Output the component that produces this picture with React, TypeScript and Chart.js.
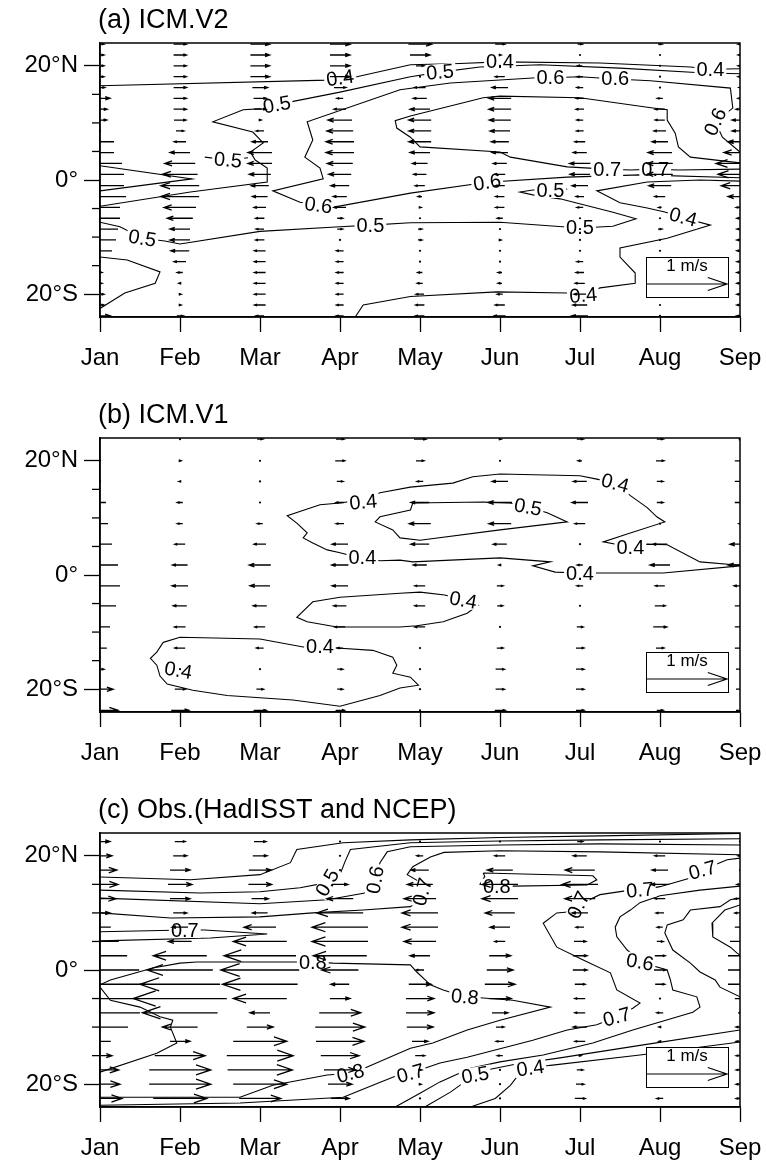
import React, { useEffect, useRef } from 'react';
import { Chart, registerables } from 'chart.js';
Chart.register(...registerables);

const FONT = "'Liberation Sans', Arial, Helvetica, sans-serif";
Chart.defaults.font.family = FONT;
Chart.defaults.color = '#000';

// ---------- axes ----------
const months = ['Jan', 'Feb', 'Mar', 'Apr', 'May', 'Jun', 'Jul', 'Aug', 'Sep'];
const yTickValues = [-20, -15, -10, -5, 0, 5, 10, 15, 20];
const yMajorLabels: Record<string, string> = { '20': '20°N', '0': '0°', '-20': '20°S' };

// ---------- panel (a) ICM.V2 ----------
const latsA = [23.8, 21.9, 20.0, 18.1, 16.2, 14.3, 12.4, 10.5, 8.6, 6.7, 4.8, 2.9, 1.0, -1.0, -2.9, -4.8, -6.7, -8.6, -10.5, -12.4, -14.3, -16.2, -18.1, -20.0, -21.9, -23.8];
const uA = [
  [0.1, 0.1, 0.1, 0.1, 0.12, 0.25, 0.18, 0.17, 0.02, -0.35, -0.35, -0.55, -0.6, -0.6, -0.65, -0.5, -0.5, -0.45, -0.4, -0.3, 0.0, 0.05, 0.05, 0.1, 0.1, 0.25],
  [0.16, 0.16, 0.16, 0.16, 0.16, 0.16, 0.16, 0.15, 0.1, -0.15, -0.25, -0.38, -0.44, -0.48, -0.48, -0.4, -0.32, -0.25, -0.25, -0.23, -0.15, -0.07, -0.03, 0.03, 0.03, 0.08],
  [0.24, 0.24, 0.24, 0.24, 0.19, 0.16, 0.15, 0.03, -0.1, -0.2, -0.3, -0.3, -0.27, -0.22, -0.19, -0.15, -0.11, -0.1, -0.11, -0.14, -0.14, -0.14, -0.14, -0.14, -0.14, -0.1],
  [0.25, 0.25, 0.25, 0.25, 0.15, -0.08, -0.15, -0.3, -0.33, -0.35, -0.35, -0.32, -0.28, -0.23, -0.17, -0.15, 0.07, 0.07, 0.02, -0.09, -0.09, -0.09, -0.09, -0.09, -0.09, -0.09],
  [0.29, 0.25, 0.1, 0.02, -0.14, -0.17, -0.25, -0.28, -0.28, -0.28, -0.25, -0.19, -0.16, -0.12, -0.05, 0.03, 0.02, 0.05, 0.05, 0.02, 0.02, -0.06, -0.07, -0.1, -0.11, -0.11],
  [0.12, 0.03, 0.02, -0.12, -0.2, -0.28, -0.28, -0.27, -0.25, -0.22, -0.2, -0.17, -0.13, -0.12, -0.11, -0.11, -0.07, 0.01, 0.03, 0.02, 0.02, -0.05, -0.05, -0.07, -0.12, -0.14],
  [0.06, 0.02, -0.06, -0.07, -0.08, -0.1, -0.1, -0.08, -0.09, -0.13, -0.17, -0.26, -0.25, -0.2, -0.1, -0.08, -0.02, 0.01, 0.0, 0.01, -0.08, -0.1, -0.12, -0.15, -0.18, -0.2],
  [0.05, 0.01, 0.01, 0.01, 0.01, -0.07, -0.12, -0.12, -0.15, -0.2, -0.3, -0.32, -0.32, -0.28, -0.13, -0.04, 0.01, 0.05, 0.01, 0.01, 0.02, 0.02, 0.02, 0.02, 0.02, 0.02],
  [-0.05, -0.05, -0.05, -0.05, -0.03, -0.05, -0.1, -0.2, -0.2, -0.3, -0.4, -0.6, -0.55, -0.47, -0.3, -0.1, -0.08, -0.08, -0.08, -0.08, -0.08, -0.08, -0.08, -0.08, -0.08, -0.08],
];
const contA1 = [[0, 16.5], [2.84, 17.5], [3.0, 17.9], [3.21, 18.1], [3.88, 20.2], [4.5, 20.4], [5.0, 20.7], [6.25, 20.5], [7.38, 19.8], [7.63, 19.4], [8, 19.5]];
const contA2 = [[0, -4.6], [1.13, -2.1], [2.09, -0.35], [2.09, 2.1], [1.94, 3.5], [1.88, 4.9], [2.04, 6.5], [1.91, 8.4], [1.41, 10.2], [1.79, 12.3], [2.03, 12.5], [2.21, 13.2], [3.0, 15.4], [3.88, 18.1], [4.25, 18.9], [4.75, 19.8], [5.5, 20.2], [6.5, 19.6], [7.5, 18.8], [8, 18.6]];
const contA3 = [[8, 0.4], [6.75, 0.9], [5.84, 0.5], [4.84, -0.4], [3.88, -2.3], [2.94, -4.7], [2.73, -4.4], [2.5, -3.9], [2.16, -1.9], [2.79, 0.2], [2.75, 2.1], [2.56, 4.0], [2.66, 7.0], [2.59, 10.2], [3.75, 15.8], [4.38, 17.0], [5.46, 17.9], [5.63, 17.9], [6.0, 18.1], [6.44, 17.7], [6.88, 17.4], [7.88, 16.1], [7.91, 12.6], [7.69, 10.2], [7.78, 7.5], [8, 4.9]];
const contA4 = [[8, 3.0], [7.38, 4.0], [7.23, 5.8], [7.19, 8.2], [7.09, 10.5], [7.09, 12.3], [6.91, 12.6], [6.0, 14.4], [5.0, 14.7], [4.79, 14.4], [3.88, 11.2], [3.69, 10.4], [3.71, 9.1], [3.88, 7.5], [4.0, 5.8], [5.0, 4.9], [5.13, 4.0], [5.84, 2.3], [6.34, 1.9], [6.63, 1.75], [6.94, 1.9], [7.23, 1.75], [8, 1.9]];
const contA5 = [[0, 2.5], [1.15, 0.2], [0, -1.9]];
const contA6 = [[1.31, 4.0], [1.6, 3.5], [1.85, 3.9]];
const contA7 = [[0, -7.4], [0.25, -8.2], [0.53, -10.2], [0.81, -10.7], [1.0, -11.2], [2.0, -9.0], [3.0, -8.2], [3.38, -7.9], [3.88, -7.5], [5.0, -7.4], [6.0, -8.4], [6.41, -8.1], [6.7, -6.8], [6.4, -5.6], [5.75, -3.3], [5.41, -2.6], [5.25, -2.1], [5.41, -1.75], [5.63, -1.75], [5.84, -1.6]];
const contA8 = [[3.19, -24.0], [3.29, -21.9], [3.88, -20.4], [4.96, -19.6], [5.84, -19.8], [6.04, -20.2], [6.25, -18.9], [6.69, -18.1], [6.69, -16.3], [6.5, -13.5], [6.5, -11.9], [7.09, -10.2], [7.63, -7.9], [7.31, -6.7], [7.06, -5.6], [6.84, -4.9], [6.5, -4.0], [6.21, -1.9], [6.84, -0.35], [7.5, 0], [8, -0.2]];
const contA9 = [[0, -13.5], [0.34, -14.0], [0.75, -16.1], [0.69, -18.1], [0.31, -19.8], [0, -22.5]];
const labelsA: [number, number, string, number][] = [
  [3.0, 17.9, '0.4', -8], [5.0, 20.7, '0.4', 0], [7.63, 19.4, '0.4', 0],
  [2.21, 13.2, '0.5', -10], [4.25, 18.9, '0.5', -5], [1.6, 3.5, '0.5', 5],
  [5.63, 17.9, '0.6', 0], [6.44, 17.7, '0.6', 0], [7.69, 10.2, '0.6', -65],
  [2.73, -4.4, '0.6', 8], [4.84, -0.4, '0.6', -8],
  [6.34, 1.9, '0.7', 0], [6.94, 1.9, '0.7', 0],
  [0.53, -10.2, '0.5', 10], [3.38, -7.9, '0.5', 0], [6.0, -8.4, '0.5', 0], [5.63, -1.75, '0.5', 0],
  [6.04, -20.2, '0.4', -5], [7.29, -6.5, '0.4', 15],
];

// ---------- panel (b) ICM.V1 ----------
const latsB = [23.8, 20.0, 16.4, 12.7, 9.0, 5.4, 1.75, -1.9, -5.4, -9.1, -12.8, -16.5, -20.0, -23.7];
const uB = [
  [0.02, 0.02, 0.02, -0.15, -0.2, -0.3, -0.45, -0.5, -0.4, -0.25, -0.17, 0.1, 0.33, 0.45],
  [0.02, 0.03, -0.03, -0.07, -0.07, -0.13, -0.19, -0.2, -0.17, -0.14, -0.13, 0.0, 0.13, 0.22],
  [0.07, 0.02, -0.02, 0.02, -0.07, -0.15, -0.27, -0.25, -0.17, -0.13, -0.09, 0.0, 0.09, 0.16],
  [0.1, 0.12, 0.08, -0.1, -0.1, -0.2, -0.21, -0.2, -0.16, -0.13, -0.07, 0.07, 0.07, 0.11],
  [0.15, 0.1, -0.08, -0.23, -0.27, -0.23, -0.17, -0.13, -0.13, -0.13, 0.02, 0.02, 0.02, 0.02],
  [0.03, 0.02, -0.2, -0.3, -0.28, -0.17, -0.03, 0.08, 0.07, 0.02, 0.08, 0.11, 0.11, 0.13],
  [0.08, -0.05, -0.17, -0.2, -0.13, 0.02, -0.07, -0.08, 0.02, 0.08, 0.1, 0.1, 0.1, 0.1],
  [0.08, 0.1, 0.08, 0.08, 0.02, -0.18, -0.25, -0.12, 0.13, 0.17, 0.1, 0.08, 0.08, 0.08],
  [0.03, 0.13, 0.13, 0.13, -0.03, -0.25, -0.3, -0.15, 0.13, 0.13, 0.13, 0.1, 0.1, 0.1],
];
const contB1 = [[8, 1.6], [7.04, 0.35], [6.25, 0.35], [6.0, 0.35], [5.69, 0.5], [5.41, 1.6], [5.63, 2.3], [5.0, 3.0], [3.91, 2.3], [3.75, 2.6], [3.5, 2.5], [3.25, 3.0], [3.0, 3.9], [2.84, 4.4], [2.66, 5.6], [2.54, 6.5], [2.59, 7.4], [2.46, 9.1], [2.34, 10.4], [2.75, 12.3], [3.0, 12.6], [3.29, 13.2], [3.5, 14.4], [3.88, 15.4], [4.41, 16.1], [4.66, 17.2], [5.0, 17.7], [6.0, 17.4], [6.21, 16.8], [6.44, 16.1], [6.63, 13.9], [6.84, 11.8], [6.96, 10.2], [7.06, 9.3], [6.59, 7.2], [6.29, 5.8], [6.63, 4.9], [6.84, 5.4], [7.09, 5.3], [7.5, 2.3], [7.96, 1.75], [8, 1.75]];
const contB2 = [[3.91, 12.6], [4.79, 12.8], [5.13, 12.6], [5.35, 11.9], [5.59, 10.9], [5.84, 9.3], [5.0, 7.9], [4.0, 6.1], [3.75, 6.5], [3.66, 7.9], [3.44, 9.3], [3.5, 10.2], [3.88, 11.4], [3.91, 12.6]];
const contB3 = [[3.75, -3.2], [4.0, -3.0], [4.31, -3.5], [4.54, -4.4], [4.73, -5.3], [4.59, -6.7], [4.29, -8.2], [3.96, -8.9], [3.75, -9.1], [2.96, -9.1], [2.59, -8.2], [2.46, -7.4], [2.66, -4.7], [3.0, -3.9], [3.75, -3.2]];
const contB4 = [[0.79, -11.8], [1.0, -10.9], [2.0, -11.2], [2.54, -12.6], [2.75, -12.6], [2.96, -12.8], [3.41, -13.2], [3.66, -14.4], [3.71, -15.8], [3.66, -17.2], [3.88, -17.9], [3.98, -19.3], [3.75, -19.8], [3.5, -21.1], [3.0, -23.0], [2.41, -21.9], [1.59, -21.1], [1.16, -20.2], [0.84, -19.1], [0.75, -17.7], [0.71, -15.8], [0.63, -14.6], [0.71, -13.5], [0.79, -11.8]];
const labelsB: [number, number, string, number][] = [
  [3.29, 12.8, '0.4', -5], [3.28, 3.0, '0.4', 0], [6.44, 16.1, '0.4', 15], [6.63, 4.9, '0.4', 0],
  [6.0, 0.35, '0.4', 0], [5.35, 11.9, '0.5', 10], [4.54, -4.4, '0.4', 10], [2.75, -12.6, '0.4', 0],
  [0.98, -16.7, '0.4', 10],
];

// ---------- panel (c) Obs. ----------
const latsC = [22.5, 20, 17.5, 15, 12.5, 10, 7.5, 5, 2.5, 0, -2.5, -5, -7.5, -10, -12.5, -15, -17.5, -20, -22.5];
const uC = [
  [0.25, 0.3, 0.42, 0.45, 0.4, 0.25, -0.27, -0.47, -0.68, -0.98, -1.05, -1.0, -1.0, -0.7, -0.27, 0.3, 0.47, 0.5, 0.55],
  [0.13, 0.17, 0.25, 0.3, 0.25, 0.17, -0.2, -0.29, -0.67, -0.82, -1.0, -1.17, -0.94, -0.44, 0.25, 0.63, 0.77, 0.77, 0.67],
  [0.15, 0.18, 0.28, 0.29, 0.21, -0.19, -0.4, -0.67, -0.9, -0.98, -0.94, -0.67, -0.25, 0.33, 0.67, 0.83, 0.81, 0.67, 0.52],
  [0.01, 0.02, 0.02, 0.2, -0.33, -0.58, -0.7, -0.7, -0.67, -0.46, -0.23, 0.25, 0.52, 0.62, 0.6, 0.48, 0.4, 0.3, 0.23],
  [0.0, -0.08, -0.22, -0.32, -0.4, -0.45, -0.45, -0.4, -0.25, -0.1, 0.28, 0.35, 0.35, 0.33, 0.2, 0.12, 0.05, 0.03, 0.02],
  [0.02, -0.13, -0.32, -0.45, -0.45, -0.37, -0.25, -0.13, 0.27, 0.33, 0.38, 0.28, 0.2, 0.1, -0.1, -0.07, 0.02, 0.02, 0.02],
  [0.07, -0.17, -0.37, -0.45, -0.38, -0.2, -0.1, 0.15, 0.18, 0.18, 0.13, -0.13, -0.13, -0.17, -0.13, 0.03, 0.08, 0.1, 0.13],
  [0.02, -0.13, -0.2, -0.23, -0.13, -0.1, -0.07, 0.08, 0.13, 0.15, 0.12, 0.02, -0.08, -0.03, -0.03, -0.05, -0.05, -0.05, -0.08],
  [0.02, -0.05, 0.02, -0.08, -0.13, -0.13, 0.13, 0.25, 0.3, 0.3, 0.3, 0.13, 0.05, -0.1, -0.1, -0.1, -0.1, -0.1, -0.1],
];
const contC1 = [[0, 16.3], [1.13, 15.8], [2.0, 16.7], [2.38, 18.8], [2.46, 21.1], [3.04, 22.3], [3.88, 22.8], [5.0, 23.2], [6.25, 23.5], [8, 23.9]];
const contC2 = [[0, 14.0], [1.25, 13.5], [2.0, 13.7], [2.5, 14.4], [2.84, 15.3], [3.0, 16.7], [3.06, 18.9], [3.13, 21.1], [3.88, 22.3], [5.0, 22.6], [6.25, 22.8], [8, 23.0]];
const contC3 = [[0, 12.6], [2.0, 11.6], [2.84, 12.3], [3.31, 13.5], [3.44, 15.8], [3.5, 18.8], [3.59, 20.7], [3.88, 21.6], [5.0, 21.9], [6.25, 22.1], [8, 21.9]];
const contC4 = [[0, 10.0], [0.88, 9.1], [2.0, 9.3], [2.66, 10.0], [3.29, 10.5], [3.88, 11.1], [4.0, 12.3], [4.03, 13.7], [4.0, 15.4], [3.84, 16.7], [3.91, 18.1], [4.13, 19.8], [4.3, 20.6], [5.0, 20.9], [6.25, 20.7], [8, 20.2]];
const contC5 = [[0, 6.7], [1.06, 7.0], [1.31, 7.0], [2.09, 6.3], [1.38, 5.6], [0, 5.1]];
const contC6 = [[0, -22.3], [1.75, -22.3], [2.16, -20.2], [2.84, -18.4], [3.13, -18.1], [3.34, -17.0], [3.88, -13.7], [4.16, -12.8], [4.59, -10.5], [5.0, -8.8], [5.63, -6.5], [5.16, -5.3], [4.79, -4.9], [4.56, -4.7], [4.29, -3.5], [4.13, -2.6], [3.96, -0.35], [3.88, 0.9], [2.91, 1.2], [2.66, 1.4], [1.21, 1.4], [1.0, 1.2], [0.66, 0.35], [0.13, -1.75], [0, -2.6]];
const contC7 = [[0, -3.0], [0.13, -5.3], [0.5, -6.5], [0.75, -8.2], [0.91, -8.8], [0.88, -10.0], [0.96, -12.8], [0.71, -14.6], [0, -17.9]];
const contC8 = [[0, -23.7], [1.75, -23.3], [3.04, -22.3], [3.41, -20.2], [3.69, -18.6], [3.88, -18.1], [4.06, -17.2], [4.25, -16.3], [4.59, -15.3], [5.41, -12.3], [5.84, -10.5], [6.21, -9.6], [6.46, -8.2], [6.66, -6.7], [6.75, -5.8], [6.46, -3.5], [6.38, -0.5], [6.04, 1.75], [5.71, 4.0], [5.54, 8.2], [5.71, 10.0], [5.88, 10.2], [5.98, 11.4], [6.25, 13.2], [6.63, 14.0], [6.75, 14.0], [7.0, 14.6], [7.38, 16.1], [7.53, 17.5], [7.84, 19.3], [8, 19.6]];
const contC9 = [[8, 14.7], [7.5, 14.0], [7.0, 13.0], [6.75, 11.8], [6.63, 10.5], [6.5, 9.3], [6.44, 7.5], [6.46, 5.8], [6.59, 3.5], [6.75, 1.4], [7.09, 0], [7.13, -1.75], [7.16, -3.5], [7.46, -4.7], [7.5, -6.5], [7.41, -7.4], [6.66, -10.5], [6.16, -12.8], [5.54, -14.9], [5.0, -16.1], [4.63, -17.2], [4.25, -19.6], [4.0, -21.6], [3.69, -24.0]];
const contC10 = [[4.06, -24.0], [4.38, -21.4], [4.59, -19.3], [4.69, -18.4], [4.88, -17.4], [5.19, -16.5], [5.75, -15.4], [6.75, -13.2], [8, -10.5]];
const contC11 = [[4.63, -24.0], [4.94, -22.5], [5.13, -20.2], [5.23, -18.4], [5.38, -17.2], [5.63, -16.7], [6.75, -14.9], [8, -12.6]];
const contC12 = [[8, 12.6], [7.88, 12.3], [7.75, 11.1], [7.38, 10.5], [7.29, 8.8], [7.09, 7.9], [7.06, 6.5], [7.16, 3.5], [7.38, 1.2], [7.5, -0.35], [7.69, -1.75], [7.75, -3.0], [8, -4.7]];
const contC13 = [[8, 11.4], [7.81, 10.5], [7.65, 8.2], [7.66, 5.8], [7.88, 4.0], [7.96, 3.0], [8, 2.6]];
const contC14 = [[4.79, 17.0], [6.16, 16.5], [6.21, 15.8], [6.09, 14.9], [5.16, 14.7], [4.96, 14.6], [4.75, 15.0], [4.81, 16.4], [4.79, 17.0]];
const labelsC: [number, number, string, number][] = [
  [2.84, 15.3, '0.5', -60], [3.44, 15.8, '0.6', -80], [4.03, 13.7, '0.7', -75], [1.06, 7.0, '0.7', 0],
  [2.66, 1.4, '0.8', 0], [4.96, 14.6, '0.8', 0], [5.98, 11.4, '0.7', -65], [6.75, 14.0, '0.7', -5],
  [7.53, 17.5, '0.7', -15], [6.75, 1.4, '0.6', 10], [4.56, -4.7, '0.8', 5], [6.46, -8.2, '0.7', -15],
  [3.13, -18.1, '0.8', -15], [3.88, -18.1, '0.7', -15], [4.69, -18.4, '0.5', -10], [5.38, -17.2, '0.4', -8],
];

type Panel = {
  title: string;
  lats: number[];
  u: number[][];
  contours: number[][][];
  labels: [number, number, string, number][];
};

const panels: Panel[] = [
  { title: '(a) ICM.V2', lats: latsA, u: uA, contours: [contA1, contA2, contA3, contA4, contA5, contA6, contA7, contA8, contA9], labels: labelsA },
  { title: '(b) ICM.V1', lats: latsB, u: uB, contours: [contB1, contB2, contB3, contB4], labels: labelsB },
  { title: '(c) Obs.(HadISST and NCEP)', lats: latsC, u: uC, contours: [contC1, contC2, contC3, contC4, contC5, contC6, contC7, contC8, contC9, contC10, contC11, contC12, contC13, contC14], labels: labelsC },
];

function drawArrow(ctx: CanvasRenderingContext2D, cx: number, cy: number, L: number) {
  const a = Math.abs(L);
  if (a < 2.2) {
    ctx.beginPath();
    ctx.arc(cx, cy, 1.1, 0, Math.PI * 2);
    ctx.fill();
    return;
  }
  const dir = Math.sign(L);
  const x0 = cx - L / 2;
  const x1 = cx + L / 2;
  const h = Math.max(2.5, a * 0.24);
  const w = h * 0.34;
  ctx.beginPath();
  ctx.moveTo(x0, cy);
  ctx.lineTo(x1, cy);
  ctx.moveTo(x1 - dir * h, cy - w);
  ctx.lineTo(x1, cy);
  ctx.lineTo(x1 - dir * h, cy + w);
  ctx.stroke();
}

function makeChart(canvas: HTMLCanvasElement, panel: Panel) {
  const extras = {
    id: 'extras',
    afterDatasetsDraw(chart: any) {
      const ctx: CanvasRenderingContext2D = chart.ctx;
      const ca = chart.chartArea;
      const xs = chart.scales.x;
      const ys = chart.scales.y;
      ctx.save();
      ctx.beginPath();
      ctx.rect(ca.left, ca.top, ca.right - ca.left, ca.bottom - ca.top);
      ctx.clip();
      // contour labels
      ctx.font = `20px ${FONT}`;
      ctx.textAlign = 'center';
      ctx.textBaseline = 'middle';
      for (const [m, lat, txt, rot] of panel.labels) {
        const px = xs.getPixelForValue(m);
        const py = ys.getPixelForValue(lat);
        const w = ctx.measureText(txt).width;
        ctx.save();
        ctx.translate(px, py);
        ctx.rotate((rot * Math.PI) / 180);
        ctx.fillStyle = '#fff';
        ctx.fillRect(-w / 2 - 2, -8, w + 4, 16);
        ctx.fillStyle = '#000';
        ctx.fillText(txt, 0, 1);
        ctx.restore();
      }
      // wind vectors
      const unit = xs.getPixelForValue(1) - xs.getPixelForValue(0);
      ctx.strokeStyle = '#000';
      ctx.fillStyle = '#000';
      ctx.lineWidth = 1.3;
      panel.u.forEach((col, i) => {
        const cx = xs.getPixelForValue(i);
        col.forEach((u, j) => {
          const cy = ys.getPixelForValue(panel.lats[j]);
          drawArrow(ctx, cx, cy, u * unit);
        });
      });
      ctx.restore();

      // reference vector box
      ctx.save();
      const bw = Math.round(unit) + 2, bh = 40;
      const bx = ca.right - 12 - bw;
      const by = ca.bottom - 20 - bh;
      ctx.fillStyle = '#fff';
      ctx.fillRect(bx, by, bw, bh);
      ctx.strokeStyle = '#000';
      ctx.lineWidth = 1;
      ctx.strokeRect(bx + 0.5, by + 0.5, bw, bh);
      ctx.fillStyle = '#000';
      ctx.font = `17px ${FONT}`;
      ctx.textAlign = 'center';
      ctx.textBaseline = 'middle';
      ctx.fillText('1 m/s', bx + bw / 2, by + 9);
      ctx.lineWidth = 1.2;
      drawArrow(ctx, bx + 1 + unit / 2, by + 27, unit);
      ctx.restore();

      // frame
      ctx.save();
      ctx.strokeStyle = '#000';
      ctx.lineWidth = 1.5;
      ctx.strokeRect(ca.left, ca.top, ca.right - ca.left, ca.bottom - ca.top);
      // minor y ticks
      ctx.lineWidth = 1.3;
      for (const v of yTickValues) {
        if (v % 20 === 0) continue;
        const py = ys.getPixelForValue(v);
        ctx.beginPath();
        ctx.moveTo(ca.left - 8, py);
        ctx.lineTo(ca.left, py);
        ctx.stroke();
      }
      // title
      ctx.fillStyle = '#000';
      ctx.font = `27px ${FONT}`;
      ctx.textAlign = 'left';
      ctx.textBaseline = 'middle';
      ctx.fillText(panel.title, ca.left - 2, ca.top - 22);
      ctx.restore();
    },
  };

  const datasets = panel.contours.map((c) => ({
    data: c.map((p) => ({ x: p[0], y: p[1] })),
    showLine: true,
    borderColor: '#000',
    backgroundColor: '#000',
    borderWidth: 1.1,
    pointRadius: 0,
    fill: false,
    tension: 0,
  }));

  return new Chart(canvas, {
    type: 'scatter',
    data: { datasets },
    options: {
      responsive: false,
      animation: false,
      devicePixelRatio: 1,
      events: [],
      layout: { padding: { top: 43, right: 26, left: 0, bottom: 0 } },
      plugins: { legend: { display: false }, tooltip: { enabled: false }, title: { display: false } },
      scales: {
        x: {
          type: 'linear',
          min: 0,
          max: 8,
          afterBuildTicks: (s: any) => {
            s.ticks = months.map((_, i) => ({ value: i }));
          },
          afterFit: (s: any) => {
            s.height = 59;
            s.paddingLeft = 0;
            s.paddingRight = 0;
          },
          ticks: {
            callback: (_v: any, i: number) => months[i] ?? '',
            font: { size: 24, family: FONT },
            color: '#000',
            padding: 12,
            maxRotation: 0,
            autoSkip: false,
          },
          grid: { drawOnChartArea: false, drawTicks: true, tickLength: 15, tickWidth: 1.3, tickColor: '#000', color: 'rgba(0,0,0,0)' },
          border: { display: true, color: '#000', width: 1.5 },
        },
        y: {
          type: 'linear',
          min: -24,
          max: 24,
          afterBuildTicks: (s: any) => {
            s.ticks = yTickValues.map((v) => ({ value: v }));
          },
          afterFit: (s: any) => {
            s.width = 100;
            s.paddingTop = 0;
            s.paddingBottom = 0;
          },
          ticks: {
            callback: (v: any) => yMajorLabels[String(v)] ?? '',
            font: { size: 24, family: FONT },
            color: '#000',
            padding: 6,
            autoSkip: false,
          },
          grid: {
            drawOnChartArea: false,
            drawTicks: true,
            tickLength: 16,
            tickWidth: 1.3,
            tickColor: (c: any) => (c.tick && c.tick.value % 20 === 0 ? '#000' : 'rgba(0,0,0,0)'),
            color: 'rgba(0,0,0,0)',
          },
          border: { display: true, color: '#000', width: 1.5 },
        },
      },
    } as any,
    plugins: [extras as any],
  });
}

export default function App() {
  const r1 = useRef<HTMLCanvasElement>(null);
  const r2 = useRef<HTMLCanvasElement>(null);
  const r3 = useRef<HTMLCanvasElement>(null);
  useEffect(() => {
    document.body.style.overflow = 'hidden';
    const refs = [r1, r2, r3];
    const charts = refs.map((r, i) => makeChart(r.current as HTMLCanvasElement, panels[i]));
    return () => charts.forEach((c) => c.destroy());
  }, []);
  const cs = (top: number) => ({ position: 'absolute' as const, left: 0, top, width: 766, height: 376 });
  return (
    <div style={{ position: 'absolute', left: 0, top: 0, width: 766, height: 1166, overflow: 'hidden', background: '#fff' }}>
      <canvas ref={r1} width={766} height={376} style={cs(0)} />
      <canvas ref={r2} width={766} height={376} style={cs(395)} />
      <canvas ref={r3} width={766} height={376} style={cs(790)} />
    </div>
  );
}
